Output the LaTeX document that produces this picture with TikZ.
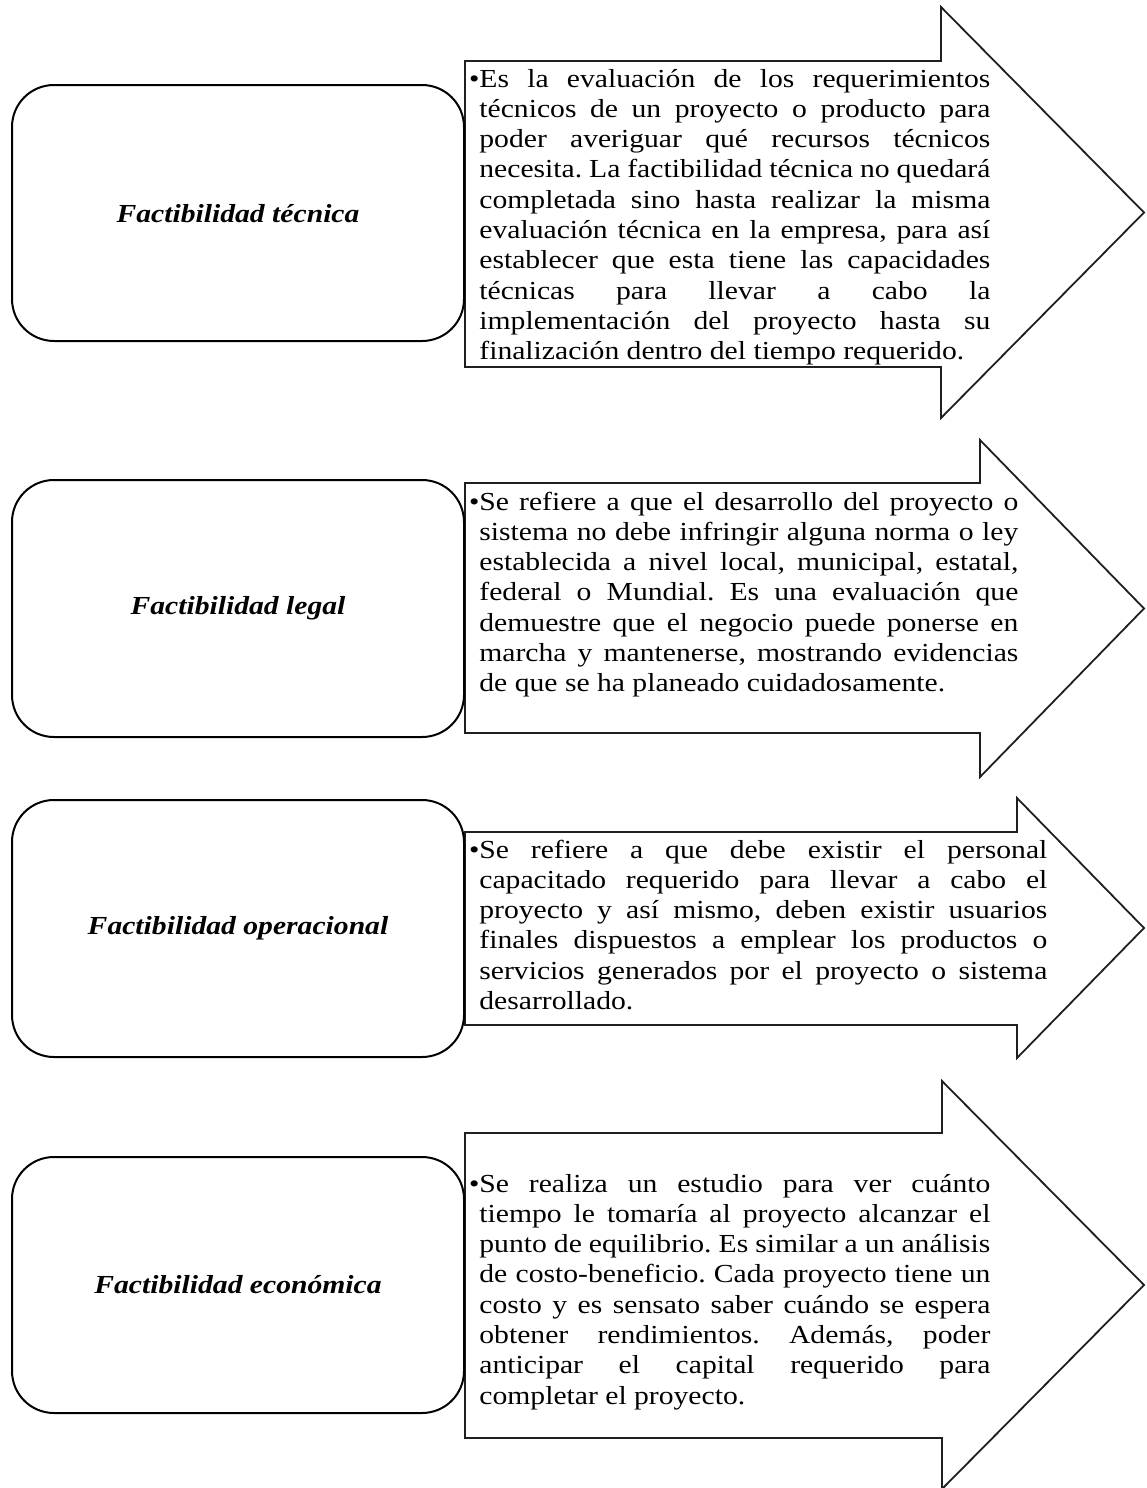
\documentclass[tikz,border=0pt]{standalone}
\usepackage{fontspec}
\setmainfont{Liberation Serif}[FakeStretch=1.14]
\frenchspacing
\newlength\tw
\newcommand\jl[1]{\hbox to \tw{#1}}
\newcommand\lastline[1]{\hbox{#1}}
\newcommand\txt[2]{\parbox[t]{#1}{\setlength\tw{#1}\fontsize{13}{15.15}\selectfont\frenchspacing #2}}
\tikzset{
  titlebox/.style={draw=black, line width=1pt, rounded corners=21pt},
  arrowline/.style={draw=black!88, line width=0.9pt, line join=miter},
  titletext/.style={font=\fontsize{13}{15}\selectfont\bfseries\itshape, inner sep=0pt},
  bodytext/.style={anchor=base west, inner sep=0pt}
}
\begin{document}
\begin{tikzpicture}[x=0.5pt, y=-0.5pt]
\useasboundingbox (0,0) rectangle (1146,1488);

% ---- row 1 ----
\draw[arrowline] (465,61) -- (941,61) -- (941,7) -- (1144,212.5) -- (941,418) -- (941,367) -- (465,367) -- cycle;
\draw[titlebox] (12,85) rectangle (464,341);
\node[titletext] (h1) at (238,213.5) {Factibilidad técnica};
\node[bodytext] (t1) at (479,87) {\txt{255.5pt}{%
\jl{\llap{•}Es la evaluación de los requerimientos}
\jl{técnicos de un proyecto o producto para}
\jl{poder averiguar qué recursos técnicos}
\jl{necesita. La factibilidad técnica no quedará}
\jl{completada sino hasta realizar la misma}
\jl{evaluación técnica en la empresa, para así}
\jl{establecer que esta tiene las capacidades}
\jl{técnicas para llevar a cabo la}
\jl{implementación del proyecto hasta su}
\lastline{finalización dentro del tiempo requerido.}}};

% ---- row 2 ----
\draw[arrowline] (465,483) -- (980,483) -- (980,440) -- (1144,608.5) -- (980,777) -- (980,733) -- (465,733) -- cycle;
\draw[titlebox] (12,480) rectangle (464,737);
\node[titletext] (h2) at (238,608.5) {Factibilidad legal};
\node[bodytext] (t2) at (479,510) {\txt{269.5pt}{%
\jl{\llap{•}Se refiere a que el desarrollo del proyecto o}
\jl{sistema no debe infringir alguna norma o ley}
\jl{establecida a nivel local, municipal, estatal,}
\jl{federal o Mundial. Es una evaluación que}
\jl{demuestre que el negocio puede ponerse en}
\jl{marcha y mantenerse, mostrando evidencias}
\lastline{de que se ha planeado cuidadosamente.}}};

% ---- row 3 ----
\draw[arrowline] (465,832) -- (1017,832) -- (1017,798) -- (1144,928) -- (1017,1058) -- (1017,1025) -- (465,1025) -- cycle;
\draw[titlebox] (12,800) rectangle (464,1057);
\node[titletext] (h3) at (238,928.5) {Factibilidad operacional};
\node[bodytext] (t3) at (479,858) {\txt{284pt}{%
\jl{\llap{•}Se refiere a que debe existir el personal}
\jl{capacitado requerido para llevar a cabo el}
\jl{proyecto y así mismo, deben existir usuarios}
\jl{finales dispuestos a emplear los productos o}
\jl{servicios generados por el proyecto o sistema}
\lastline{desarrollado.}}};

% ---- row 4 ----
\draw[arrowline] (465,1133) -- (942,1133) -- (942,1081) -- (1144,1285) -- (942,1489) -- (942,1438) -- (465,1438) -- cycle;
\draw[titlebox] (12,1157) rectangle (464,1413);
\node[titletext] (h4) at (238,1285) {Factibilidad económica};
\node[bodytext] (t4) at (479,1192) {\txt{255.5pt}{%
\jl{\llap{•}Se realiza un estudio para ver cuánto}
\jl{tiempo le tomaría al proyecto alcanzar el}
\jl{punto de equilibrio. Es similar a un análisis}
\jl{de costo-beneficio. Cada proyecto tiene un}
\jl{costo y es sensato saber cuándo se espera}
\jl{obtener rendimientos. Además, poder}
\jl{anticipar el capital requerido para}
\lastline{completar el proyecto.}}};
\end{tikzpicture}
\end{document}
